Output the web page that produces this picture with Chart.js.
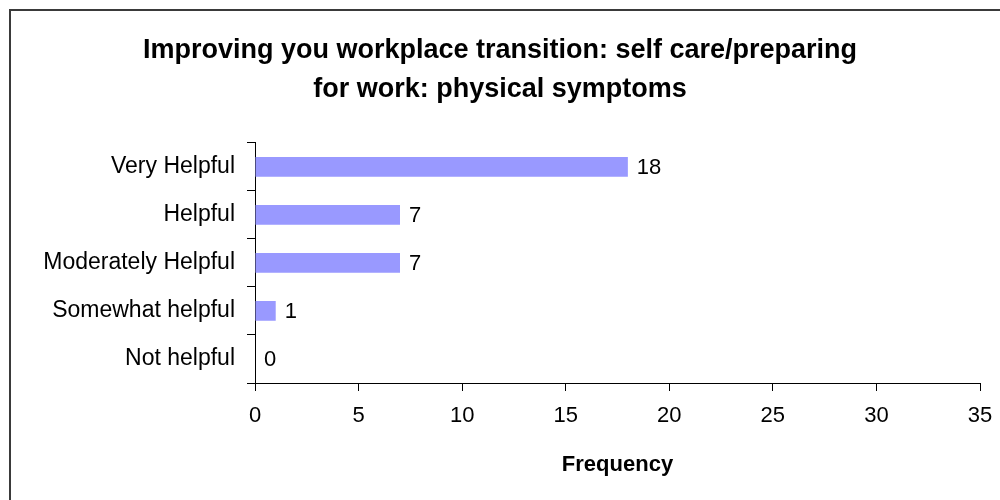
<!DOCTYPE html>
<html>
<head>
<meta charset="utf-8">
<script src="https://cdn.jsdelivr.net/npm/chart.js@4/dist/chart.umd.min.js"></script>
<style>
  html, body { margin: 0; padding: 0; background: #fff; }
  #wrap { width: 1000px; height: 500px; position: relative; }
</style>
</head>
<body>
<div id="wrap"><canvas id="chart"></canvas></div>
<script>
// chart data
const categories = ["Very Helpful", "Helpful", "Moderately Helpful", "Somewhat helpful", "Not helpful"];
const frequencies = [18, 7, 7, 1, 0];
const titleLines = ["Improving you workplace transition: self care/preparing", "for work: physical symptoms"];
const xTitle = "Frequency";

const FONT = "'Liberation Sans', Arial, sans-serif";

// outer frame (only top and left edges are visible in the reference)
const framePlugin = {
  id: "frame",
  beforeDraw(chart) {
    const ctx = chart.ctx;
    ctx.save();
    ctx.fillStyle = "#fff";
    ctx.fillRect(0, 0, chart.width, chart.height);
    ctx.strokeStyle = "#3a3a3a";
    ctx.lineWidth = 2;
    ctx.strokeRect(10, 10, chart.width + 20, chart.height + 20);
    ctx.restore();
  }
};

// value labels right of each bar
const valueLabels = {
  id: "valueLabels",
  afterDatasetsDraw(chart) {
    const ctx = chart.ctx;
    const meta = chart.getDatasetMeta(0);
    ctx.save();
    ctx.font = "22px " + FONT;
    ctx.fillStyle = "#000";
    ctx.textAlign = "left";
    ctx.textBaseline = "middle";
    meta.data.forEach((bar, i) => {
      ctx.fillText(String(frequencies[i]), bar.x + 9, bar.y + 1);
    });
    ctx.restore();
  }
};

new Chart(document.getElementById("chart"), {
  type: "bar",
  data: {
    labels: categories,
    datasets: [{
      data: frequencies,
      backgroundColor: "#9999ff",
      borderWidth: 0,
      barPercentage: 0.41,
      categoryPercentage: 1
    }]
  },
  options: {
    indexAxis: "y",
    responsive: true,
    maintainAspectRatio: false,
    animation: false,
    layout: { padding: { left: 20, right: 20, top: 0, bottom: 0 } },
    plugins: {
      legend: { display: false },
      tooltip: { enabled: false },
      title: {
        display: true,
        text: titleLines,
        color: "#000",
        font: { family: FONT, size: 27, weight: "bold", lineHeight: 1.44 },
        padding: { top: 31, bottom: 34 }
      }
    },
    scales: {
      x: {
        min: 0,
        max: 35,
        afterFit(scale) {
          scale.height = 117;
          scale.paddingRight = 0;
        },
        ticks: {
          stepSize: 5,
          color: "#000",
          padding: 12,
          font: { family: FONT, size: 22 }
        },
        grid: {
          drawOnChartArea: false,
          color: "#000",
          tickLength: 8,
          tickColor: "#000"
        },
        border: { display: true, color: "#000", width: 1 },
        title: {
          display: true,
          text: xTitle,
          color: "#000",
          font: { family: FONT, size: 22, weight: "bold" },
          padding: { top: 0, bottom: 22 }
        }
      },
      y: {
        afterFit(scale) { scale.width = 235; },
        ticks: {
          color: "#000",
          padding: 12,
          font: { family: FONT, size: 23 }
        },
        grid: {
          drawOnChartArea: false,
          color: "#000",
          tickLength: 8,
          tickColor: "#000"
        },
        border: { display: true, color: "#000", width: 1 }
      }
    }
  },
  plugins: [framePlugin, valueLabels]
});
</script>
</body>
</html>
